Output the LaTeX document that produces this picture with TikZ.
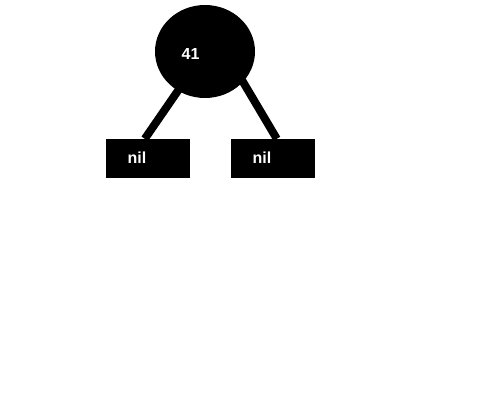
\documentclass[tikz,border=0pt]{standalone}
\usepackage{fontspec}
\setmainfont{Liberation Sans}
\usetikzlibrary{shapes.geometric}
\tikzset{
  treenode/.style={ellipse,fill=black,draw=none,minimum width=100pt,minimum height=93pt,inner sep=0pt},
  nilbox/.style={rectangle,fill=black,draw=none,minimum width=84pt,minimum height=39pt,inner sep=0pt},
  lbl/.style={text=white,font=\bfseries\fontsize{16}{18}\selectfont,inner sep=0pt},
  edge/.style={line width=8pt,black}
}
\begin{document}
\begin{tikzpicture}[x=1pt,y=-1pt]
\useasboundingbox[fill=white] (0,0) rectangle (500,400);
\node[treenode] (c) at (205,51.5) {};
\node[nilbox] (l) at (148,158.5) {};
\node[nilbox] (r) at (273,158.5) {};
\draw[edge] (c.center) -- ([xshift=39pt]l.north west);
\draw[edge] ([xshift=20pt]c.center) -- ([xshift=46pt]r.north west);
\node[lbl] (t41) at (190.5,54) {41};
\node[lbl] (tl) at (137,157.5) {nil};
\node[lbl] (tr) at (262,157.5) {nil};
\end{tikzpicture}
\end{document}
